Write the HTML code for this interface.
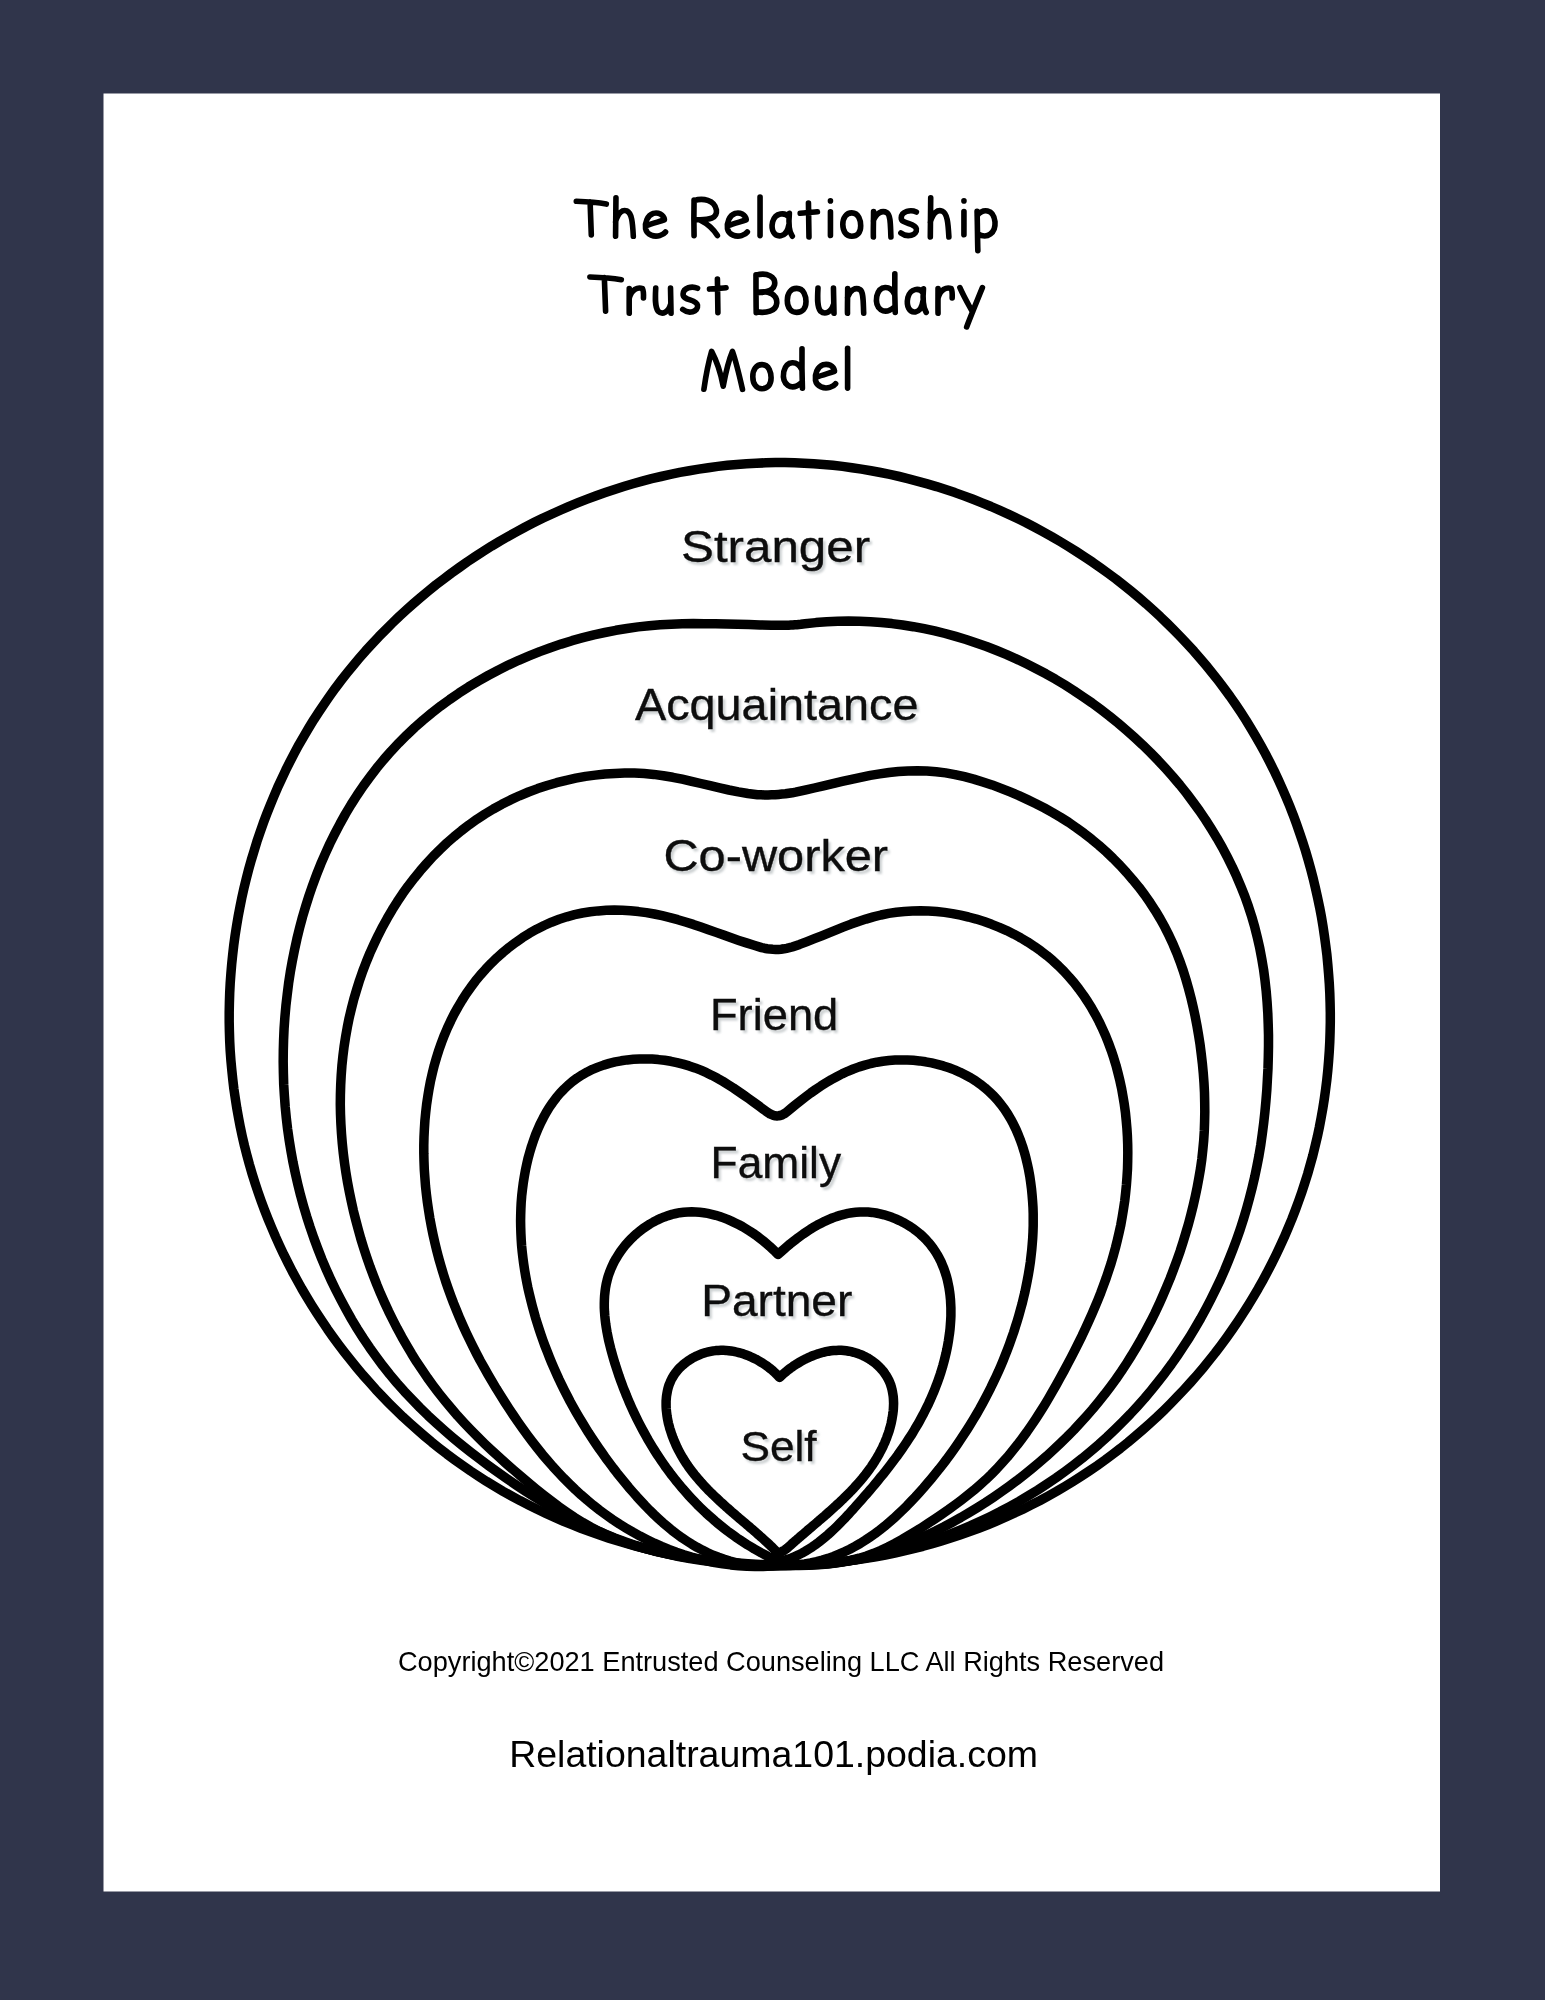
<!DOCTYPE html>
<html><head><meta charset="utf-8"><title>The Relationship Trust Boundary Model</title>
<style>
html,body{margin:0;padding:0;background:#30354b;}
body{width:1545px;height:2000px;overflow:hidden;position:relative;}
svg{position:absolute;left:0;top:0;display:block;}
text{font-family:"Liberation Sans",sans-serif;}
.tt{fill:#000;stroke:#000;stroke-width:0.8px;}
.lb{fill:#0d0d0d;stroke:#0d0d0d;stroke-width:0.35px;}
.sh{fill:#ccd0d2;filter:url(#blur);}
.ft{fill:#000;}
</style></head><body>
<svg style="will-change:transform" width="1545" height="2000" viewBox="0 0 1545 2000">
<defs><filter id="blur" x="-10%" y="-30%" width="120%" height="160%"><feGaussianBlur stdDeviation="1.3"/></filter></defs>
<rect x="0" y="0" width="1545" height="2000" fill="#30354b"/>
<rect x="103.5" y="93.5" width="1336.5" height="1798" fill="#ffffff"/>
<g>
<g fill="none" stroke="#000" stroke-width="5.6" stroke-linecap="round" stroke-linejoin="round" vector-effect="non-scaling-stroke">
<path vector-effect="non-scaling-stroke" d="M0 4 C35 5 70 7 100 12 M46 6 L50 100" transform="translate(576.30 199.90) scale(0.3000 0.3500)"/>
<path vector-effect="non-scaling-stroke" d="M6 0 C5 35 4 70 4 100 M4 62 C18 38 40 30 62 34 C88 40 92 62 96 100" transform="translate(614.80 197.80) scale(0.1930 0.3850)"/>
<path vector-effect="non-scaling-stroke" d="M6 55 C35 46 65 38 92 30 C88 6 62 -2 40 3 C12 12 0 42 4 68 C10 95 45 104 70 97 C82 94 92 88 97 82" transform="translate(644.70 212.70) scale(0.2150 0.2360)"/>
<path vector-effect="non-scaling-stroke" d="M4 2 C3 35 3 70 4 100 M4 4 C40 -4 88 2 96 30 C100 52 70 58 8 56 M30 58 C60 68 85 84 100 100" transform="translate(693.10 199.20) scale(0.2430 0.3640)"/>
<path vector-effect="non-scaling-stroke" d="M6 55 C35 46 65 38 92 30 C88 6 62 -2 40 3 C12 12 0 42 4 68 C10 95 45 104 70 97 C82 94 92 88 97 82" transform="translate(726.60 212.70) scale(0.2140 0.2360)"/>
<path vector-effect="non-scaling-stroke" d="M50 0 C50 35 50 70 50 100" transform="translate(759.30 197.10) scale(0.0150 0.3850)"/>
<path vector-effect="non-scaling-stroke" d="M84 18 C65 -3 20 -2 6 38 C-4 75 15 102 45 98 C70 95 80 70 84 50 M86 2 C82 40 84 80 100 100" transform="translate(771.40 212.90) scale(0.2090 0.2330)"/>
<path vector-effect="non-scaling-stroke" d="M0 30 C30 29 70 28 100 26 M48 0 C49 35 50 70 51 100" transform="translate(800.20 203.00) scale(0.1720 0.3400)"/>
<path vector-effect="non-scaling-stroke" d="M50 2 L50 3 M50 33 C50 55 50 78 49 100" transform="translate(829.80 200.00) scale(0.0130 0.3540)"/>
<path vector-effect="non-scaling-stroke" d="M50 0 C90 0 100 35 100 55 C100 85 80 100 50 100 C20 100 0 80 0 50 C0 20 20 0 50 0 Z" transform="translate(842.80 212.90) scale(0.1790 0.2330)"/>
<path vector-effect="non-scaling-stroke" d="M6 4 C6 35 4 70 5 100 M5 38 C20 8 50 -2 75 8 C95 18 92 60 95 100" transform="translate(872.40 210.60) scale(0.1950 0.2640)"/>
<path vector-effect="non-scaling-stroke" d="M92 8 C60 -2 10 5 8 30 C6 55 85 48 92 72 C98 98 40 106 6 88" transform="translate(899.80 209.90) scale(0.1800 0.2630)"/>
<path vector-effect="non-scaling-stroke" d="M6 0 C5 35 4 70 4 100 M4 62 C18 38 40 30 62 34 C88 40 92 62 96 100" transform="translate(929.50 197.70) scale(0.2020 0.3930)"/>
<path vector-effect="non-scaling-stroke" d="M50 2 L50 3 M50 33 C50 55 50 78 49 100" transform="translate(962.90 200.00) scale(0.0210 0.3470)"/>
<path vector-effect="non-scaling-stroke" d="M6 2 C8 35 8 70 10 100 M7 12 C35 -5 90 -6 98 28 C102 55 60 72 10 58" transform="translate(975.90 210.60) scale(0.1950 0.4010)"/>
<path vector-effect="non-scaling-stroke" d="M0 4 C35 5 70 7 100 12 M46 6 L50 100" transform="translate(589.90 275.50) scale(0.3140 0.3570)"/>
<path vector-effect="non-scaling-stroke" d="M6 4 C6 35 5 70 6 100 M6 42 C20 8 60 -4 90 4 C96 12 97 25 96 40" transform="translate(628.30 287.60) scale(0.1580 0.2570)"/>
<path vector-effect="non-scaling-stroke" d="M6 2 C3 40 0 75 20 92 C45 108 80 96 92 66 M92 2 C93 35 94 70 95 100" transform="translate(654.70 287.60) scale(0.1720 0.2570)"/>
<path vector-effect="non-scaling-stroke" d="M92 8 C60 -2 10 5 8 30 C6 55 85 48 92 72 C98 98 40 106 6 88" transform="translate(681.70 286.20) scale(0.1720 0.2640)"/>
<path vector-effect="non-scaling-stroke" d="M0 30 C30 29 70 28 100 26 M48 0 C49 35 50 70 51 100" transform="translate(709.50 279.00) scale(0.1650 0.3360)"/>
<path vector-effect="non-scaling-stroke" d="M4 2 C4 35 4 70 5 100 M4 3 C55 -6 95 8 88 28 C82 45 45 48 8 48 M8 48 C65 40 100 55 98 75 C95 97 50 102 5 98" transform="translate(755.10 274.10) scale(0.2210 0.3850)"/>
<path vector-effect="non-scaling-stroke" d="M50 0 C90 0 100 35 100 55 C100 85 80 100 50 100 C20 100 0 80 0 50 C0 20 20 0 50 0 Z" transform="translate(787.30 288.40) scale(0.1870 0.2400)"/>
<path vector-effect="non-scaling-stroke" d="M6 2 C3 40 0 75 20 92 C45 108 80 96 92 66 M92 2 C93 35 94 70 95 100" transform="translate(816.90 287.60) scale(0.1800 0.2560)"/>
<path vector-effect="non-scaling-stroke" d="M6 4 C6 35 4 70 5 100 M5 38 C20 8 50 -2 75 8 C95 18 92 60 95 100" transform="translate(846.60 287.60) scale(0.1800 0.2560)"/>
<path vector-effect="non-scaling-stroke" d="M92 0 C91 35 92 70 94 100 M90 52 C70 30 20 28 6 58 C-4 90 40 110 90 86" transform="translate(875.50 273.90) scale(0.2100 0.3850)"/>
<path vector-effect="non-scaling-stroke" d="M84 18 C65 -3 20 -2 6 38 C-4 75 15 102 45 98 C70 95 80 70 84 50 M86 2 C82 40 84 80 100 100" transform="translate(906.70 288.40) scale(0.1950 0.2400)"/>
<path vector-effect="non-scaling-stroke" d="M6 4 C6 35 5 70 6 100 M6 42 C20 8 60 -4 90 4 C96 12 97 25 96 40" transform="translate(937.10 287.60) scale(0.1570 0.2560)"/>
<path vector-effect="non-scaling-stroke" d="M0 0 C15 20 35 40 56 62 M100 0 C75 35 50 70 30 100" transform="translate(959.90 287.60) scale(0.2250 0.3930)"/>
<path vector-effect="non-scaling-stroke" d="M0 100 C5 65 12 30 20 2 C35 30 45 65 50 92 C55 65 62 30 74 2 C84 30 92 65 100 100" transform="translate(703.90 350.60) scale(0.3860 0.3870)"/>
<path vector-effect="non-scaling-stroke" d="M50 0 C90 0 100 35 100 55 C100 85 80 100 50 100 C20 100 0 80 0 50 C0 20 20 0 50 0 Z" transform="translate(752.80 364.60) scale(0.1830 0.2410)"/>
<path vector-effect="non-scaling-stroke" d="M92 0 C91 35 92 70 94 100 M90 52 C70 30 20 28 6 58 C-4 90 40 110 90 86" transform="translate(782.50 348.90) scale(0.2120 0.3920)"/>
<path vector-effect="non-scaling-stroke" d="M6 55 C35 46 65 38 92 30 C88 6 62 -2 40 3 C12 12 0 42 4 68 C10 95 45 104 70 97 C82 94 92 88 97 82" transform="translate(814.60 364.00) scale(0.2170 0.2410)"/>
<path vector-effect="non-scaling-stroke" d="M50 0 C50 35 50 70 50 100" transform="translate(847.20 348.30) scale(0.0080 0.3980)"/>
</g>
</g>
<g fill="none" stroke="#000" stroke-width="9.5" stroke-linejoin="round" stroke-linecap="round">
<path d="M785.0 462.6L794.6 462.8L804.2 463.2L813.8 463.7L823.4 464.4L832.9 465.3L842.5 466.4L852.0 467.7L861.5 469.1L871.0 470.7L880.5 472.5L889.9 474.4L899.3 476.5L908.7 478.8L918.0 481.3L927.3 483.9L936.5 486.6L945.7 489.6L954.9 492.6L964.0 495.9L973.1 499.3L982.0 502.8L991.0 506.5L999.9 510.4L1008.7 514.4L1017.4 518.5L1026.1 522.8L1034.7 527.3L1043.2 531.9L1051.7 536.6L1060.1 541.5L1068.3 546.5L1076.5 551.6L1084.7 556.9L1092.7 562.3L1100.6 567.9L1108.4 573.5L1116.2 579.3L1123.8 585.3L1131.3 591.3L1138.8 597.5L1146.1 603.8L1153.3 610.3L1160.4 616.8L1167.3 623.5L1174.2 630.3L1180.9 637.2L1187.5 644.2L1194.0 651.3L1200.3 658.6L1206.5 665.9L1212.6 673.4L1218.5 680.9L1224.3 688.6L1230.0 696.4L1235.5 704.3L1240.8 712.2L1246.0 720.3L1251.0 728.5L1255.9 736.7L1260.7 745.1L1265.3 753.5L1269.7 762.0L1274.0 770.6L1278.1 779.3L1282.1 788.1L1285.9 796.9L1289.6 805.8L1293.1 814.7L1296.4 823.7L1299.6 832.8L1302.7 842.0L1305.6 851.1L1308.3 860.4L1310.9 869.7L1313.3 879.0L1315.5 888.4L1317.6 897.8L1319.6 907.2L1321.4 916.7L1323.0 926.2L1324.4 935.7L1325.7 945.3L1326.9 954.9L1327.8 964.5L1328.6 974.1L1329.3 983.7L1329.8 993.3L1330.1 1003.0L1330.3 1012.6L1330.3 1022.2L1330.1 1031.9L1329.8 1041.5L1329.3 1051.1L1328.6 1060.8L1327.8 1070.3L1326.8 1079.9L1325.6 1089.5L1324.3 1099.0L1322.8 1108.5L1321.1 1118.0L1319.3 1127.5L1317.3 1136.9L1315.1 1146.2L1312.8 1155.6L1310.2 1164.9L1307.6 1174.1L1304.7 1183.3L1301.7 1192.4L1298.5 1201.5L1295.2 1210.5L1291.7 1219.5L1288.0 1228.4L1284.2 1237.3L1280.2 1246.0L1276.1 1254.7L1271.8 1263.4L1267.4 1271.9L1262.8 1280.4L1258.1 1288.8L1253.2 1297.1L1248.2 1305.4L1243.0 1313.5L1237.7 1321.6L1232.3 1329.5L1226.7 1337.4L1221.0 1345.2L1215.2 1352.9L1209.2 1360.4L1203.1 1367.9L1196.9 1375.2L1190.5 1382.5L1184.0 1389.6L1177.4 1396.6L1170.7 1403.5L1163.9 1410.3L1156.9 1417.0L1149.8 1423.5L1142.6 1429.9L1135.3 1436.2L1127.9 1442.4L1120.4 1448.4L1112.7 1454.2L1105.0 1460.0L1097.2 1465.6L1089.2 1471.0L1081.2 1476.3L1073.0 1481.5L1064.8 1486.5L1056.5 1491.4L1048.1 1496.1L1039.6 1500.7L1031.0 1505.1L1022.4 1509.4L1013.6 1513.5L1004.9 1517.5L996.0 1521.3L987.1 1525.0L978.1 1528.5L969.0 1531.8L959.9 1535.0L950.7 1538.1L941.5 1541.0L932.3 1543.7L923.0 1546.3L913.6 1548.7L904.2 1551.0L894.8 1553.1L885.3 1555.0L875.8 1556.8L866.3 1558.4L856.7 1559.8L847.2 1561.1L837.6 1562.2L828.0 1563.1L818.3 1563.9L808.7 1564.5L799.0 1564.9L789.4 1565.2L779.7 1565.3L770.1 1565.2L760.4 1564.9L750.8 1564.5L741.2 1563.9L731.5 1563.1L721.9 1562.2L712.3 1561.1L702.8 1559.8L693.2 1558.4L683.7 1556.8L674.2 1555.0L664.7 1553.1L655.3 1551.0L645.9 1548.7L636.6 1546.3L627.2 1543.7L618.0 1541.0L608.8 1538.1L599.6 1535.0L590.5 1531.8L581.5 1528.5L572.5 1524.9L563.6 1521.3L554.7 1517.4L545.9 1513.4L537.2 1509.3L528.6 1505.0L520.0 1500.6L511.5 1496.0L503.1 1491.3L494.8 1486.4L486.6 1481.4L478.5 1476.2L470.4 1470.9L462.5 1465.4L454.7 1459.8L446.9 1454.1L439.3 1448.2L431.8 1442.2L424.4 1436.0L417.1 1429.7L409.9 1423.3L402.8 1416.8L395.9 1410.1L389.0 1403.3L382.3 1396.4L375.7 1389.4L369.3 1382.2L362.9 1375.0L356.7 1367.6L350.6 1360.1L344.6 1352.5L338.8 1344.9L333.1 1337.1L327.5 1329.2L322.1 1321.2L316.8 1313.2L311.6 1305.0L306.6 1296.8L301.7 1288.5L297.0 1280.0L292.4 1271.6L288.0 1263.0L283.7 1254.4L279.6 1245.7L275.6 1236.9L271.8 1228.0L268.1 1219.1L264.6 1210.2L261.2 1201.1L258.0 1192.0L255.0 1182.9L252.1 1173.7L249.4 1164.5L246.9 1155.2L244.5 1145.9L242.3 1136.5L240.3 1127.1L238.5 1117.6L236.8 1108.2L235.3 1098.6L233.9 1089.1L232.8 1079.6L231.8 1070.0L230.9 1060.4L230.2 1050.8L229.7 1041.2L229.4 1031.5L229.2 1021.9L229.2 1012.2L229.4 1002.6L229.7 993.0L230.2 983.3L230.9 973.7L231.7 964.1L232.7 954.5L233.8 944.9L235.1 935.4L236.6 925.8L238.2 916.3L240.0 906.8L241.9 897.4L244.0 888.0L246.3 878.6L248.7 869.3L251.3 860.0L254.1 850.8L256.9 841.6L260.0 832.4L263.2 823.3L266.6 814.3L270.1 805.4L273.8 796.5L277.6 787.6L281.6 778.9L285.7 770.2L290.0 761.6L294.4 753.1L299.0 744.6L303.8 736.3L308.7 728.0L313.7 719.8L318.9 711.8L324.3 703.8L329.8 695.9L335.4 688.1L341.2 680.4L347.1 672.9L353.2 665.4L359.4 658.0L365.7 650.8L372.2 643.7L378.8 636.7L385.6 629.8L392.4 623.0L399.4 616.3L406.5 609.8L413.7 603.4L421.0 597.1L428.5 590.9L436.0 584.8L443.7 578.9L451.4 573.1L459.3 567.5L467.2 561.9L475.3 556.5L483.4 551.3L491.6 546.1L499.9 541.1L508.3 536.3L516.8 531.6L525.3 527.0L533.9 522.6L542.6 518.3L551.4 514.2L560.2 510.2L569.1 506.3L578.1 502.6L587.1 499.1L596.2 495.7L605.3 492.5L614.5 489.4L623.7 486.5L632.9 483.8L642.3 481.2L651.6 478.7L661.0 476.5L670.4 474.4L679.8 472.4L689.3 470.7L698.8 469.1L708.3 467.7L717.9 466.4L727.4 465.3L737.0 464.4L746.6 463.7L756.2 463.2L765.8 462.8L775.4 462.6L785.0 462.6Z"/>
<path d="M782.6 625.3L771.3 625.2L760.0 624.9L748.8 624.6L737.6 624.3L726.5 624.0L715.4 623.8L704.4 623.7L693.3 623.6L682.3 623.8L671.2 624.2L660.2 624.8L649.1 625.7L638.1 626.9L627.0 628.5L615.9 630.3L604.9 632.5L593.9 634.9L582.9 637.7L572.0 640.7L561.1 644.1L550.4 647.7L539.7 651.6L529.1 655.9L518.7 660.3L508.3 665.1L498.1 670.2L488.1 675.5L478.2 681.1L468.5 686.9L459.0 693.1L449.7 699.5L440.6 706.1L431.7 713.0L423.1 720.1L414.7 727.5L406.6 735.2L398.7 743.1L391.1 751.2L383.8 759.5L376.7 768.1L370.0 776.9L363.4 785.9L357.2 795.0L351.2 804.4L345.5 813.9L340.1 823.6L334.9 833.5L329.9 843.5L325.3 853.6L320.8 863.9L316.7 874.3L312.8 884.8L309.1 895.5L305.7 906.2L302.5 917.0L299.6 927.9L296.9 938.9L294.5 949.9L292.3 961.0L290.3 972.2L288.6 983.3L287.2 994.6L285.9 1005.8L284.9 1017.0L284.1 1028.3L283.6 1039.6L283.3 1050.8L283.2 1062.0L283.4 1073.3L283.7 1084.5L284.4 1095.7L285.2 1106.9L286.3 1118.0L287.6 1129.1L289.2 1140.2L291.0 1151.3L293.0 1162.3L295.3 1173.3L297.8 1184.2L300.5 1195.1L303.5 1205.9L306.7 1216.7L310.1 1227.3L313.8 1238.0L317.7 1248.5L321.8 1259.0L326.2 1269.3L330.8 1279.6L335.7 1289.7L340.8 1299.7L346.1 1309.6L351.6 1319.4L357.4 1329.0L363.4 1338.4L369.7 1347.7L376.2 1356.8L382.9 1365.8L389.8 1374.5L397.0 1383.1L404.4 1391.4L412.1 1399.6L419.9 1407.6L427.9 1415.4L436.1 1423.0L444.5 1430.5L453.0 1437.8L461.7 1445.0L470.5 1452.0L479.4 1458.8L488.5 1465.6L497.6 1472.2L506.8 1478.7L516.1 1485.0L525.5 1491.2L535.0 1497.3L544.6 1503.1L554.2 1508.8L564.0 1514.2L573.9 1519.5L583.9 1524.5L594.0 1529.2L604.2 1533.7L614.5 1537.9L624.9 1541.8L635.5 1545.4L646.1 1548.6L656.9 1551.5L667.8 1554.2L678.8 1556.5L689.8 1558.5L700.9 1560.2L712.1 1561.7L723.3 1562.9L734.5 1563.9L745.8 1564.6L757.1 1565.1L768.3 1565.3L779.6 1565.4L790.4 1565.4L801.3 1565.1L812.1 1564.6L822.9 1563.8L833.7 1562.7L844.5 1561.4L855.3 1559.7L866.0 1557.9L876.7 1555.8L887.3 1553.4L897.9 1550.8L908.4 1547.9L918.9 1544.9L929.3 1541.5L939.6 1537.9L949.9 1534.1L960.0 1530.1L970.1 1525.9L980.1 1521.4L990.0 1516.7L999.8 1511.8L1009.5 1506.6L1019.0 1501.3L1028.5 1495.7L1037.8 1490.0L1046.9 1484.0L1056.0 1477.9L1064.9 1471.5L1073.6 1465.0L1082.2 1458.3L1090.6 1451.4L1098.9 1444.3L1107.0 1437.0L1114.9 1429.5L1122.6 1421.9L1130.2 1414.1L1137.5 1406.2L1144.7 1398.1L1151.7 1389.8L1158.5 1381.3L1165.1 1372.8L1171.5 1364.1L1177.7 1355.2L1183.7 1346.2L1189.6 1337.1L1195.2 1327.8L1200.6 1318.5L1205.8 1309.0L1210.8 1299.4L1215.6 1289.7L1220.3 1279.9L1224.7 1269.9L1228.8 1259.9L1232.8 1249.8L1236.6 1239.6L1240.2 1229.4L1243.5 1219.0L1246.6 1208.6L1249.5 1198.1L1252.2 1187.5L1254.7 1176.9L1256.9 1166.2L1259.0 1155.5L1260.8 1144.7L1262.3 1133.9L1263.7 1123.0L1264.9 1112.1L1265.9 1101.2L1266.8 1090.2L1267.4 1079.2L1268.0 1068.2L1268.3 1057.2L1268.5 1046.2L1268.5 1035.1L1268.2 1024.1L1267.8 1013.2L1267.1 1002.2L1266.2 991.3L1265.0 980.5L1263.6 969.7L1261.8 959.0L1259.8 948.3L1257.4 937.8L1254.8 927.3L1251.8 916.9L1248.5 906.7L1244.9 896.5L1240.9 886.5L1236.7 876.6L1232.2 866.8L1227.4 857.2L1222.4 847.6L1217.0 838.2L1211.4 829.0L1205.6 819.9L1199.5 810.9L1193.1 802.1L1186.6 793.4L1179.8 784.9L1172.8 776.6L1165.5 768.4L1158.1 760.4L1150.5 752.6L1142.6 744.9L1134.6 737.5L1126.4 730.2L1118.1 723.1L1109.6 716.2L1100.9 709.5L1092.1 703.0L1083.1 696.8L1074.0 690.7L1064.7 684.8L1055.4 679.2L1045.9 673.8L1036.2 668.7L1026.5 663.8L1016.7 659.1L1006.7 654.6L996.7 650.5L986.5 646.5L976.3 642.9L966.0 639.5L955.6 636.4L945.2 633.5L934.7 630.9L924.1 628.7L913.4 626.7L902.7 625.0L892.0 623.6L881.2 622.5L870.4 621.7L859.5 621.2L848.6 621.1L837.7 621.3L826.8 621.8L815.9 622.6L804.9 623.8L802.9 624.0L800.9 624.3L798.9 624.5L796.9 624.7L794.9 624.8L792.9 625.0L790.8 625.1L788.8 625.2L786.7 625.2L784.7 625.3Z"/>
<path d="M757.5 794.7L747.9 793.5L738.4 791.9L728.9 790.0L719.6 787.9L710.2 785.7L700.9 783.5L691.6 781.3L682.2 779.2L672.8 777.3L663.4 775.7L653.8 774.4L644.2 773.6L634.5 773.1L624.7 773.1L614.9 773.4L605.1 774.0L595.3 775.1L585.6 776.4L575.8 778.2L566.2 780.3L556.6 782.7L547.1 785.5L537.7 788.6L528.5 792.0L519.4 795.8L510.5 799.9L501.8 804.3L493.3 809.0L485.0 814.0L477.0 819.2L469.1 824.8L461.5 830.6L454.0 836.7L446.8 843.0L439.9 849.6L433.1 856.4L426.6 863.5L420.3 870.7L414.2 878.2L408.3 885.8L402.7 893.6L397.3 901.7L392.2 909.8L387.3 918.2L382.6 926.7L378.2 935.3L374.0 944.1L370.0 952.9L366.3 961.9L362.8 971.0L359.6 980.2L356.7 989.5L353.9 998.9L351.5 1008.3L349.2 1017.8L347.3 1027.3L345.6 1036.9L344.1 1046.5L342.9 1056.1L341.9 1065.8L341.2 1075.4L340.7 1085.1L340.4 1094.9L340.3 1104.6L340.5 1114.3L340.9 1124.0L341.5 1133.8L342.3 1143.5L343.3 1153.2L344.5 1162.9L345.9 1172.5L347.5 1182.1L349.3 1191.7L351.3 1201.3L353.4 1210.8L355.8 1220.2L358.3 1229.6L360.9 1239.0L363.8 1248.3L366.8 1257.5L370.0 1266.7L373.4 1275.7L376.9 1284.8L380.6 1293.7L384.5 1302.5L388.6 1311.3L392.9 1320.0L397.3 1328.6L401.9 1337.1L406.7 1345.4L411.6 1353.7L416.7 1361.9L422.1 1369.9L427.5 1377.9L433.2 1385.7L439.0 1393.4L445.1 1401.0L451.3 1408.4L457.6 1415.8L464.2 1422.9L470.9 1430.0L477.7 1436.9L484.7 1443.8L491.8 1450.5L499.0 1457.1L506.2 1463.6L513.6 1470.0L521.0 1476.4L528.4 1482.6L535.9 1488.8L543.5 1494.9L551.1 1500.8L558.8 1506.6L566.7 1512.1L574.6 1517.4L582.7 1522.5L591.0 1527.2L599.5 1531.6L608.2 1535.7L617.1 1539.4L626.1 1542.7L635.3 1545.8L644.6 1548.5L654.1 1551.0L663.6 1553.2L673.2 1555.1L682.8 1556.8L692.6 1558.3L702.3 1559.6L712.1 1560.7L721.8 1561.7L731.6 1562.5L741.3 1563.2L751.0 1563.9L760.6 1564.4L770.1 1564.9L779.6 1565.4L789.3 1565.5L799.0 1565.5L808.7 1565.3L818.3 1564.8L827.9 1564.0L837.3 1562.9L846.7 1561.4L855.9 1559.6L865.1 1557.5L874.1 1555.1L883.1 1552.4L892.0 1549.5L900.9 1546.2L909.6 1542.7L918.3 1539.0L926.9 1535.1L935.5 1531.0L944.0 1526.7L952.4 1522.2L960.8 1517.5L969.1 1512.6L977.4 1507.6L985.5 1502.5L993.5 1497.2L1001.5 1491.7L1009.3 1486.1L1017.0 1480.4L1024.6 1474.5L1032.0 1468.5L1039.3 1462.4L1046.5 1456.2L1053.5 1449.8L1060.4 1443.3L1067.2 1436.7L1073.8 1430.0L1080.2 1423.1L1086.5 1416.1L1092.7 1409.0L1098.7 1401.7L1104.6 1394.3L1110.3 1386.8L1115.9 1379.2L1121.3 1371.4L1126.5 1363.5L1131.6 1355.4L1136.5 1347.2L1141.3 1338.9L1145.9 1330.5L1150.4 1322.1L1154.7 1313.5L1158.8 1304.8L1162.7 1296.0L1166.5 1287.2L1170.2 1278.3L1173.6 1269.3L1176.9 1260.3L1180.1 1251.3L1183.0 1242.2L1185.8 1233.0L1188.5 1223.9L1190.9 1214.7L1193.2 1205.5L1195.3 1196.3L1197.2 1187.1L1198.9 1177.9L1200.5 1168.6L1201.8 1159.3L1202.8 1150.0L1203.7 1140.5L1204.3 1131.0L1204.6 1121.5L1204.8 1111.9L1204.7 1102.4L1204.5 1092.8L1204.0 1083.1L1203.3 1073.5L1202.4 1063.9L1201.3 1054.4L1200.1 1044.8L1198.6 1035.3L1197.0 1025.9L1195.2 1016.5L1193.2 1007.2L1191.0 997.9L1188.6 988.7L1186.0 979.6L1183.2 970.6L1180.1 961.7L1176.7 952.9L1173.1 944.3L1169.1 935.7L1164.9 927.3L1160.3 919.0L1155.4 910.8L1150.2 902.8L1144.7 894.9L1138.9 887.2L1132.8 879.8L1126.5 872.5L1120.0 865.4L1113.2 858.5L1106.2 851.8L1099.0 845.4L1091.7 839.3L1084.2 833.4L1076.5 827.8L1068.7 822.4L1060.7 817.4L1052.6 812.6L1044.4 808.0L1036.0 803.7L1027.5 799.6L1018.9 795.6L1010.1 791.9L1001.1 788.3L992.1 784.9L982.9 781.9L973.7 779.1L964.4 776.7L955.0 774.6L945.6 772.9L936.2 771.7L926.8 770.9L917.3 770.7L907.9 770.9L898.5 771.5L889.1 772.5L879.7 773.9L870.3 775.4L860.9 777.3L851.6 779.3L842.2 781.4L832.9 783.6L823.5 785.8L814.2 788.0L804.9 790.2L795.6 792.2L792.3 792.8L788.9 793.3L785.4 793.8L782.0 794.1L778.6 794.4L775.1 794.7L771.6 794.8L768.1 794.9L764.6 794.9L761.0 794.8Z"/>
<path d="M761.6 947.6L754.0 945.3L746.4 942.9L738.8 940.4L731.2 937.8L723.6 935.1L716.1 932.4L708.5 929.7L700.9 927.0L693.2 924.4L685.5 922.0L677.8 919.7L670.1 917.6L662.2 915.7L654.3 914.0L646.4 912.6L638.4 911.6L630.4 910.8L622.4 910.3L614.3 910.1L606.3 910.3L598.3 910.9L590.3 911.8L582.4 913.0L574.6 914.7L566.8 916.8L559.1 919.3L551.5 922.2L544.1 925.5L536.7 929.2L529.6 933.2L522.6 937.6L515.9 942.3L509.3 947.2L503.0 952.4L497.0 957.7L491.2 963.3L485.7 969.1L480.4 975.0L475.4 981.1L470.7 987.4L466.2 993.8L462.0 1000.4L458.0 1007.1L454.2 1013.9L450.7 1020.9L447.4 1028.0L444.3 1035.3L441.5 1042.6L438.9 1050.0L436.5 1057.6L434.3 1065.2L432.4 1072.9L430.6 1080.7L429.1 1088.6L427.8 1096.5L426.6 1104.5L425.7 1112.6L424.9 1120.6L424.4 1128.7L424.0 1136.9L423.8 1145.1L423.8 1153.2L424.0 1161.4L424.3 1169.6L424.9 1177.8L425.5 1186.0L426.4 1194.2L427.4 1202.3L428.6 1210.4L429.9 1218.5L431.4 1226.6L433.0 1234.5L434.8 1242.5L436.7 1250.3L438.7 1258.1L440.9 1265.8L443.2 1273.5L445.6 1281.1L448.2 1288.6L450.9 1296.1L453.7 1303.5L456.7 1310.9L459.7 1318.2L462.9 1325.5L466.2 1332.7L469.6 1339.8L473.1 1346.9L476.7 1354.0L480.4 1361.0L484.3 1367.9L488.2 1374.8L492.2 1381.7L496.3 1388.6L500.5 1395.3L504.8 1402.1L509.1 1408.8L513.6 1415.5L518.1 1422.1L522.8 1428.7L527.5 1435.2L532.3 1441.6L537.3 1448.0L542.3 1454.3L547.5 1460.4L552.8 1466.5L558.2 1472.4L563.7 1478.2L569.4 1483.9L575.2 1489.5L581.1 1494.9L587.2 1500.2L593.4 1505.3L599.7 1510.2L606.2 1515.0L612.7 1519.6L619.4 1524.0L626.2 1528.2L633.0 1532.2L640.0 1536.1L647.1 1539.7L654.3 1543.2L661.6 1546.4L668.9 1549.4L676.4 1552.2L683.9 1554.7L691.5 1557.0L699.2 1559.1L707.0 1560.9L714.8 1562.5L722.7 1563.8L730.7 1564.9L738.7 1565.7L746.8 1566.2L754.9 1566.4L763.1 1566.4L771.3 1566.0L779.6 1565.4L787.6 1565.3L795.7 1565.2L803.8 1565.1L811.8 1564.8L819.9 1564.3L827.9 1563.7L835.9 1562.8L843.8 1561.6L851.5 1560.1L859.1 1558.2L866.5 1556.0L873.8 1553.3L880.9 1550.3L887.9 1547.0L894.8 1543.5L901.7 1539.7L908.4 1535.7L915.2 1531.6L921.9 1527.4L928.6 1523.1L935.2 1518.7L941.8 1514.3L948.4 1509.7L954.8 1505.0L961.2 1500.2L967.5 1495.3L973.7 1490.3L979.7 1485.1L985.6 1479.8L991.3 1474.3L996.9 1468.6L1002.2 1462.8L1007.5 1456.9L1012.5 1450.8L1017.5 1444.6L1022.2 1438.3L1026.9 1431.9L1031.4 1425.4L1035.8 1418.8L1040.1 1412.1L1044.3 1405.4L1048.4 1398.6L1052.4 1391.7L1056.3 1384.8L1060.2 1377.8L1064.0 1370.9L1067.7 1363.9L1071.4 1356.9L1075.0 1349.9L1078.5 1342.8L1082.0 1335.8L1085.3 1328.7L1088.6 1321.6L1091.8 1314.4L1094.9 1307.2L1097.9 1300.0L1100.8 1292.7L1103.5 1285.4L1106.2 1278.0L1108.7 1270.6L1111.1 1263.2L1113.3 1255.6L1115.4 1248.0L1117.3 1240.4L1119.1 1232.7L1120.8 1224.9L1122.2 1217.0L1123.5 1209.1L1124.7 1201.1L1125.6 1193.1L1126.4 1185.1L1127.0 1177.0L1127.5 1168.9L1127.7 1160.8L1127.8 1152.6L1127.7 1144.5L1127.4 1136.4L1126.9 1128.3L1126.2 1120.3L1125.4 1112.3L1124.3 1104.3L1123.0 1096.4L1121.6 1088.5L1119.9 1080.7L1118.0 1073.0L1116.0 1065.3L1113.7 1057.8L1111.2 1050.3L1108.5 1043.0L1105.6 1035.7L1102.4 1028.6L1099.1 1021.6L1095.5 1014.8L1091.7 1008.1L1087.6 1001.5L1083.4 995.2L1078.9 989.0L1074.2 982.9L1069.2 977.1L1064.0 971.4L1058.6 966.0L1052.9 960.7L1047.0 955.7L1040.8 950.9L1034.4 946.4L1027.8 942.1L1020.9 938.0L1013.9 934.2L1006.7 930.6L999.3 927.3L991.7 924.3L984.1 921.6L976.3 919.1L968.4 917.0L960.5 915.2L952.5 913.6L944.5 912.4L936.5 911.5L928.4 911.0L920.4 910.8L912.4 910.9L904.4 911.4L896.5 912.2L888.7 913.4L881.0 915.0L873.4 916.9L865.9 919.1L858.5 921.5L851.1 924.1L843.7 926.9L836.4 929.8L829.0 932.8L821.7 935.8L814.4 938.7L807.0 941.6L799.6 944.4L792.1 947.0L789.4 947.7L786.6 948.3L783.9 948.8L781.1 949.2L778.3 949.4L775.6 949.4L772.8 949.3L770.0 949.1L767.2 948.7L764.4 948.2Z"/>
<path d="M768.3 1112.8L763.4 1109.3L758.5 1105.7L753.6 1102.1L748.6 1098.5L743.6 1095.0L738.5 1091.5L733.4 1088.0L728.2 1084.7L722.9 1081.4L717.5 1078.3L712.0 1075.4L706.5 1072.7L700.8 1070.2L695.0 1067.9L689.1 1065.9L683.0 1064.1L676.9 1062.6L670.8 1061.3L664.6 1060.3L658.3 1059.6L652.1 1059.1L645.8 1058.9L639.6 1059.0L633.4 1059.3L627.3 1059.9L621.2 1060.8L615.2 1061.9L609.3 1063.4L603.6 1065.1L598.0 1067.1L592.5 1069.3L587.3 1071.9L582.2 1074.8L577.3 1077.9L572.6 1081.4L568.2 1085.1L564.0 1089.1L560.0 1093.3L556.2 1097.8L552.7 1102.5L549.3 1107.4L546.2 1112.5L543.3 1117.8L540.5 1123.3L538.0 1128.9L535.6 1134.6L533.5 1140.5L531.5 1146.4L529.7 1152.5L528.0 1158.6L526.6 1164.8L525.3 1171.0L524.2 1177.3L523.2 1183.6L522.4 1189.8L521.7 1196.1L521.2 1202.3L520.9 1208.6L520.7 1214.8L520.6 1221.0L520.7 1227.1L520.9 1233.3L521.2 1239.4L521.6 1245.6L522.2 1251.7L522.9 1257.8L523.7 1263.8L524.6 1269.9L525.6 1275.9L526.7 1281.9L527.9 1287.8L529.3 1293.8L530.7 1299.7L532.2 1305.6L533.8 1311.4L535.4 1317.3L537.2 1323.1L539.0 1328.8L540.9 1334.6L542.9 1340.3L545.0 1346.0L547.2 1351.6L549.4 1357.3L551.7 1362.9L554.1 1368.4L556.6 1374.0L559.1 1379.5L561.7 1384.9L564.4 1390.4L567.2 1395.8L570.0 1401.2L572.9 1406.5L575.9 1411.8L579.0 1417.1L582.1 1422.3L585.3 1427.5L588.5 1432.7L591.9 1437.9L595.3 1443.0L598.7 1448.0L602.3 1453.1L605.8 1458.1L609.5 1463.0L613.2 1468.0L617.0 1472.9L620.9 1477.7L624.8 1482.5L628.7 1487.3L632.8 1492.0L636.9 1496.7L641.1 1501.3L645.3 1505.8L649.6 1510.2L654.0 1514.5L658.5 1518.7L663.0 1522.8L667.6 1526.7L672.3 1530.6L677.1 1534.2L682.0 1537.8L687.0 1541.1L692.0 1544.3L697.1 1547.3L702.4 1550.1L707.7 1552.7L713.1 1555.2L718.6 1557.3L724.3 1559.3L730.0 1561.1L735.8 1562.5L741.7 1563.8L747.8 1564.8L753.9 1565.5L760.2 1565.9L766.5 1566.0L773.0 1565.9L779.6 1565.4L786.0 1565.5L792.3 1565.2L798.5 1564.7L804.6 1563.9L810.6 1562.9L816.5 1561.6L822.3 1560.1L828.0 1558.4L833.6 1556.4L839.0 1554.2L844.4 1551.8L849.8 1549.2L855.0 1546.4L860.1 1543.5L865.2 1540.3L870.1 1537.0L875.0 1533.6L879.8 1530.0L884.5 1526.3L889.1 1522.4L893.7 1518.4L898.1 1514.3L902.5 1510.1L906.9 1505.8L911.1 1501.4L915.3 1497.0L919.4 1492.5L923.5 1487.9L927.5 1483.2L931.4 1478.6L935.3 1473.8L939.1 1469.1L942.8 1464.3L946.5 1459.5L950.1 1454.6L953.6 1449.7L957.1 1444.7L960.5 1439.7L963.8 1434.7L967.1 1429.6L970.3 1424.5L973.4 1419.4L976.5 1414.2L979.5 1409.0L982.4 1403.7L985.2 1398.5L988.0 1393.1L990.7 1387.8L993.3 1382.4L995.9 1377.0L998.4 1371.6L1000.8 1366.1L1003.1 1360.6L1005.3 1355.0L1007.5 1349.4L1009.6 1343.8L1011.6 1338.2L1013.6 1332.5L1015.4 1326.8L1017.2 1321.1L1018.9 1315.4L1020.5 1309.6L1022.1 1303.8L1023.5 1297.9L1024.9 1292.1L1026.1 1286.2L1027.3 1280.3L1028.4 1274.3L1029.4 1268.4L1030.3 1262.4L1031.0 1256.4L1031.7 1250.3L1032.2 1244.3L1032.7 1238.2L1033.0 1232.1L1033.2 1225.9L1033.2 1219.8L1033.2 1213.6L1033.0 1207.4L1032.6 1201.2L1032.1 1195.0L1031.5 1188.8L1030.7 1182.6L1029.8 1176.4L1028.7 1170.3L1027.4 1164.3L1026.0 1158.3L1024.4 1152.3L1022.6 1146.5L1020.6 1140.8L1018.4 1135.1L1016.1 1129.6L1013.5 1124.3L1010.7 1119.1L1007.7 1114.0L1004.5 1109.2L1001.0 1104.5L997.4 1100.0L993.5 1095.7L989.3 1091.7L985.0 1087.9L980.4 1084.3L975.6 1080.9L970.6 1077.8L965.4 1075.0L960.1 1072.3L954.6 1069.9L949.0 1067.8L943.3 1065.9L937.5 1064.3L931.6 1062.9L925.6 1061.8L919.5 1060.9L913.4 1060.3L907.3 1059.9L901.2 1059.9L895.1 1060.1L888.9 1060.5L882.8 1061.2L876.8 1062.2L870.8 1063.5L864.9 1065.1L859.1 1066.9L853.3 1069.0L847.7 1071.3L842.1 1073.9L836.7 1076.7L831.3 1079.6L826.0 1082.8L820.8 1086.1L815.7 1089.5L810.7 1093.0L805.7 1096.7L800.9 1100.4L796.1 1104.2L791.5 1108.0L786.9 1111.8L785.3 1113.1L783.6 1114.1L782.0 1114.9L780.3 1115.5L778.6 1115.8L776.9 1115.9L775.2 1115.8L773.5 1115.4L771.8 1114.7L770.0 1113.9Z"/>
<path d="M791.2 1558.2L794.8 1556.6L798.5 1554.9L802.0 1553.1L805.5 1551.1L808.9 1549.0L812.2 1546.9L815.5 1544.6L818.7 1542.2L821.8 1539.7L824.9 1537.2L828.0 1534.6L831.0 1531.9L834.0 1529.1L836.9 1526.3L839.8 1523.4L842.6 1520.5L845.5 1517.6L848.3 1514.6L851.0 1511.5L853.8 1508.5L856.5 1505.4L859.2 1502.4L861.9 1499.3L864.6 1496.2L867.3 1493.2L869.9 1490.1L872.6 1487.0L875.2 1483.9L877.8 1480.7L880.3 1477.6L882.9 1474.5L885.4 1471.3L887.9 1468.1L890.4 1464.9L892.8 1461.7L895.2 1458.5L897.6 1455.3L899.9 1452.0L902.2 1448.7L904.5 1445.4L906.7 1442.1L908.9 1438.7L911.1 1435.4L913.2 1432.0L915.2 1428.5L917.3 1425.1L919.3 1421.6L921.2 1418.1L923.1 1414.6L924.9 1411.0L926.7 1407.4L928.5 1403.8L930.2 1400.1L931.8 1396.4L933.4 1392.7L934.9 1388.9L936.4 1385.1L937.8 1381.3L939.2 1377.4L940.5 1373.5L941.7 1369.6L942.9 1365.6L944.0 1361.5L945.0 1357.5L946.0 1353.4L946.9 1349.3L947.7 1345.1L948.4 1341.0L949.0 1336.8L949.6 1332.7L950.1 1328.5L950.4 1324.3L950.7 1320.2L950.9 1316.1L950.9 1311.9L950.9 1307.8L950.7 1303.8L950.5 1299.7L950.1 1295.7L949.6 1291.7L949.0 1287.8L948.2 1283.9L947.4 1280.0L946.4 1276.3L945.2 1272.5L944.0 1268.9L942.5 1265.3L941.0 1261.7L939.3 1258.3L937.4 1254.9L935.4 1251.6L933.2 1248.4L930.9 1245.3L928.4 1242.3L925.8 1239.4L923.0 1236.6L920.0 1233.9L916.9 1231.4L913.7 1228.9L910.3 1226.6L906.8 1224.5L903.2 1222.4L899.5 1220.6L895.8 1218.9L891.9 1217.3L888.0 1216.0L884.1 1214.8L880.1 1213.8L876.1 1213.0L872.1 1212.4L868.0 1212.0L863.9 1211.9L859.9 1211.9L855.9 1212.2L851.9 1212.7L847.9 1213.4L844.0 1214.3L840.0 1215.4L836.2 1216.6L832.3 1218.0L828.5 1219.6L824.7 1221.3L821.0 1223.2L817.3 1225.1L813.7 1227.2L810.1 1229.4L806.6 1231.7L803.2 1234.0L799.8 1236.5L796.5 1238.9L793.2 1241.5L790.0 1244.0L786.9 1246.6L783.8 1249.3L780.9 1251.9L778.0 1254.5L775.3 1251.7L772.5 1249.0L769.6 1246.3L766.5 1243.6L763.4 1241.0L760.1 1238.4L756.8 1235.9L753.4 1233.5L749.9 1231.2L746.3 1229.0L742.7 1226.8L739.0 1224.8L735.2 1222.9L731.4 1221.1L727.5 1219.4L723.6 1217.9L719.7 1216.5L715.7 1215.3L711.7 1214.3L707.7 1213.4L703.7 1212.7L699.7 1212.2L695.7 1211.9L691.7 1211.8L687.7 1211.9L683.7 1212.2L679.8 1212.7L675.9 1213.5L672.0 1214.4L668.2 1215.6L664.4 1216.9L660.7 1218.4L657.0 1220.1L653.4 1222.0L649.9 1224.0L646.5 1226.2L643.1 1228.5L639.9 1231.0L636.7 1233.6L633.7 1236.3L630.8 1239.2L628.0 1242.1L625.3 1245.2L622.8 1248.4L620.4 1251.6L618.2 1255.0L616.1 1258.4L614.1 1261.9L612.4 1265.5L610.8 1269.1L609.4 1272.8L608.1 1276.5L607.1 1280.3L606.2 1284.1L605.5 1288.0L605.0 1291.9L604.6 1295.8L604.4 1299.7L604.3 1303.7L604.3 1307.7L604.5 1311.7L604.8 1315.7L605.2 1319.7L605.7 1323.8L606.3 1327.8L607.0 1331.9L607.8 1336.0L608.6 1340.0L609.6 1344.1L610.6 1348.2L611.7 1352.2L612.8 1356.2L614.0 1360.3L615.2 1364.3L616.5 1368.3L617.8 1372.2L619.1 1376.2L620.5 1380.1L622.0 1384.1L623.4 1388.0L625.0 1391.8L626.5 1395.7L628.1 1399.5L629.7 1403.3L631.4 1407.1L633.1 1410.9L634.9 1414.6L636.7 1418.3L638.5 1422.0L640.4 1425.7L642.3 1429.3L644.3 1432.9L646.3 1436.5L648.3 1440.1L650.4 1443.6L652.5 1447.1L654.7 1450.6L656.8 1454.0L659.1 1457.4L661.4 1460.8L663.7 1464.1L666.0 1467.5L668.4 1470.7L670.8 1474.0L673.3 1477.2L675.8 1480.4L678.4 1483.5L680.9 1486.6L683.6 1489.7L686.2 1492.7L688.9 1495.7L691.7 1498.7L694.4 1501.6L697.2 1504.5L700.1 1507.3L703.0 1510.1L705.9 1512.9L708.9 1515.6L711.9 1518.2L714.9 1520.9L718.0 1523.5L721.1 1526.0L724.2 1528.5L727.4 1531.0L730.7 1533.4L733.9 1535.7L737.2 1538.1L740.5 1540.3L743.9 1542.5L747.3 1544.7L750.8 1546.8L754.2 1548.9L757.8 1550.9L761.3 1552.9L764.9 1554.8L768.5 1556.7L772.2 1558.5L775.9 1560.3L776.5 1560.6L777.2 1560.8L778.4 1560.8L779.6 1560.7L780.8 1560.6L782.0 1560.5L783.2 1560.3L784.5 1560.1L785.8 1559.8L787.1 1559.4L788.4 1559.1L789.8 1558.6Z"/>
<path d="M788.7 1546.8L790.5 1545.2L792.3 1543.5L794.2 1541.9L796.0 1540.3L797.9 1538.7L799.8 1537.0L801.7 1535.4L803.6 1533.8L805.5 1532.2L807.4 1530.5L809.3 1528.9L811.2 1527.3L813.1 1525.7L815.1 1524.0L817.0 1522.4L818.9 1520.7L820.8 1519.1L822.8 1517.4L824.7 1515.8L826.6 1514.1L828.5 1512.4L830.4 1510.7L832.3 1509.0L834.2 1507.3L836.0 1505.6L837.9 1503.9L839.8 1502.2L841.6 1500.4L843.4 1498.7L845.2 1496.9L847.0 1495.1L848.8 1493.3L850.6 1491.5L852.3 1489.7L854.0 1487.9L855.7 1486.0L857.4 1484.1L859.0 1482.3L860.7 1480.4L862.3 1478.5L863.9 1476.5L865.4 1474.6L866.9 1472.6L868.4 1470.6L869.9 1468.6L871.3 1466.6L872.7 1464.5L874.1 1462.4L875.4 1460.3L876.7 1458.2L877.9 1456.1L879.2 1453.9L880.3 1451.7L881.5 1449.5L882.6 1447.3L883.6 1445.0L884.7 1442.7L885.6 1440.4L886.6 1438.1L887.4 1435.7L888.3 1433.3L889.1 1430.9L889.8 1428.4L890.5 1426.0L891.1 1423.5L891.6 1421.0L892.1 1418.5L892.5 1416.0L892.9 1413.5L893.2 1411.0L893.4 1408.5L893.5 1406.0L893.6 1403.5L893.5 1401.0L893.4 1398.6L893.2 1396.2L892.8 1393.8L892.4 1391.4L891.9 1389.1L891.3 1386.8L890.6 1384.5L889.7 1382.3L888.8 1380.2L887.7 1378.1L886.5 1376.0L885.2 1374.1L883.9 1372.1L882.4 1370.3L880.8 1368.5L879.1 1366.7L877.4 1365.1L875.6 1363.5L873.6 1362.0L871.7 1360.6L869.6 1359.2L867.5 1357.9L865.3 1356.8L863.1 1355.7L860.8 1354.7L858.5 1353.8L856.1 1353.0L853.7 1352.3L851.3 1351.7L848.8 1351.2L846.3 1350.8L843.8 1350.5L841.3 1350.3L838.7 1350.3L836.2 1350.4L833.6 1350.5L831.0 1350.8L828.5 1351.2L825.9 1351.7L823.3 1352.3L820.8 1353.0L818.3 1353.7L815.8 1354.6L813.3 1355.5L810.8 1356.5L808.4 1357.6L806.0 1358.7L803.7 1359.9L801.4 1361.2L799.1 1362.5L796.9 1363.8L794.7 1365.2L792.6 1366.7L790.5 1368.1L788.5 1369.6L786.6 1371.2L784.7 1372.7L782.9 1374.3L781.2 1375.9L779.6 1377.5L778.0 1375.8L776.3 1374.0L774.6 1372.4L772.8 1370.7L770.9 1369.1L768.9 1367.6L766.9 1366.0L764.8 1364.6L762.6 1363.1L760.4 1361.8L758.2 1360.5L755.9 1359.2L753.5 1358.1L751.1 1357.0L748.7 1355.9L746.3 1355.0L743.8 1354.1L741.3 1353.3L738.8 1352.6L736.3 1352.0L733.7 1351.4L731.1 1351.0L728.6 1350.7L726.0 1350.4L723.4 1350.3L720.9 1350.3L718.3 1350.4L715.8 1350.6L713.3 1350.9L710.8 1351.4L708.3 1351.9L705.8 1352.5L703.4 1353.3L701.0 1354.1L698.7 1355.1L696.4 1356.1L694.2 1357.2L692.0 1358.4L689.9 1359.7L687.9 1361.0L685.9 1362.5L684.0 1364.0L682.1 1365.6L680.4 1367.2L678.7 1368.9L677.2 1370.7L675.7 1372.6L674.3 1374.5L673.1 1376.5L671.9 1378.5L670.9 1380.5L670.0 1382.7L669.1 1384.8L668.4 1387.0L667.8 1389.3L667.3 1391.6L666.9 1393.9L666.5 1396.2L666.3 1398.6L666.1 1401.0L666.1 1403.4L666.1 1405.9L666.2 1408.3L666.4 1410.8L666.7 1413.3L667.0 1415.8L667.4 1418.2L667.9 1420.7L668.4 1423.2L669.1 1425.7L669.7 1428.2L670.5 1430.6L671.3 1433.1L672.1 1435.5L673.0 1437.9L674.0 1440.3L675.0 1442.7L676.0 1445.0L677.1 1447.4L678.2 1449.6L679.4 1451.9L680.6 1454.1L681.9 1456.3L683.1 1458.4L684.5 1460.6L685.8 1462.7L687.2 1464.7L688.6 1466.8L690.1 1468.8L691.6 1470.8L693.1 1472.8L694.6 1474.7L696.2 1476.6L697.8 1478.5L699.4 1480.4L701.0 1482.3L702.7 1484.1L704.4 1486.0L706.1 1487.8L707.8 1489.6L709.6 1491.4L711.4 1493.1L713.2 1494.9L715.0 1496.6L716.8 1498.3L718.6 1500.0L720.4 1501.7L722.3 1503.4L724.2 1505.1L726.0 1506.8L727.9 1508.4L729.8 1510.1L731.7 1511.8L733.6 1513.4L735.5 1515.0L737.4 1516.7L739.3 1518.3L741.2 1519.9L743.2 1521.6L745.1 1523.2L747.0 1524.8L748.9 1526.4L750.8 1528.1L752.7 1529.7L754.6 1531.3L756.5 1533.0L758.3 1534.6L760.2 1536.3L762.1 1537.9L763.9 1539.6L765.7 1541.3L767.5 1542.9L769.4 1544.6L771.1 1546.3L772.9 1548.0L774.7 1549.8L776.4 1551.5L777.0 1552.1L777.6 1552.5L778.3 1552.9L779.2 1552.7L780.1 1552.3L781.0 1552.0L782.0 1551.5L782.9 1551.0L783.9 1550.5L784.8 1549.9L785.8 1549.2L786.7 1548.5L787.7 1547.7Z"/>
</g>
<g>
<text class="sh" x="683.5" y="565.0" font-size="44.9" textLength="189.1" lengthAdjust="spacingAndGlyphs">Stranger</text>
<text class="lb" x="681.0" y="562.0" font-size="44.9" textLength="189.1" lengthAdjust="spacingAndGlyphs">Stranger</text>
<text class="sh" x="637.5" y="722.7" font-size="43.5" textLength="283.5" lengthAdjust="spacingAndGlyphs">Acquaintance</text>
<text class="lb" x="635.0" y="719.7" font-size="43.5" textLength="283.5" lengthAdjust="spacingAndGlyphs">Acquaintance</text>
<text class="sh" x="665.9" y="874.2" font-size="43.5" textLength="224.7" lengthAdjust="spacingAndGlyphs">Co-worker</text>
<text class="lb" x="663.4" y="871.2" font-size="43.5" textLength="224.7" lengthAdjust="spacingAndGlyphs">Co-worker</text>
<text class="sh" x="712.5" y="1033.3" font-size="43.5" textLength="128.2" lengthAdjust="spacingAndGlyphs">Friend</text>
<text class="lb" x="710.0" y="1030.3" font-size="43.5" textLength="128.2" lengthAdjust="spacingAndGlyphs">Friend</text>
<text class="sh" x="713.1" y="1180.5" font-size="43.5" textLength="130.5" lengthAdjust="spacingAndGlyphs">Family</text>
<text class="lb" x="710.6" y="1177.5" font-size="43.5" textLength="130.5" lengthAdjust="spacingAndGlyphs">Family</text>
<text class="sh" x="703.7" y="1319.3" font-size="43.5" textLength="151.1" lengthAdjust="spacingAndGlyphs">Partner</text>
<text class="lb" x="701.2" y="1316.3" font-size="43.5" textLength="151.1" lengthAdjust="spacingAndGlyphs">Partner</text>
<text class="sh" x="743.0" y="1463.6" font-size="42.0" textLength="76.1" lengthAdjust="spacingAndGlyphs">Self</text>
<text class="lb" x="740.5" y="1460.6" font-size="42.0" textLength="76.1" lengthAdjust="spacingAndGlyphs">Self</text>
</g>
<g>
<text class="ft" x="398.0" y="1671.4" font-size="28.3" textLength="766.0" lengthAdjust="spacingAndGlyphs">Copyright©2021 Entrusted Counseling LLC All Rights Reserved</text>
<text class="ft" x="509.2" y="1766.7" font-size="37.8" textLength="528.8" lengthAdjust="spacingAndGlyphs">Relationaltrauma101.podia.com</text>
</g>
</svg>
</body></html>
